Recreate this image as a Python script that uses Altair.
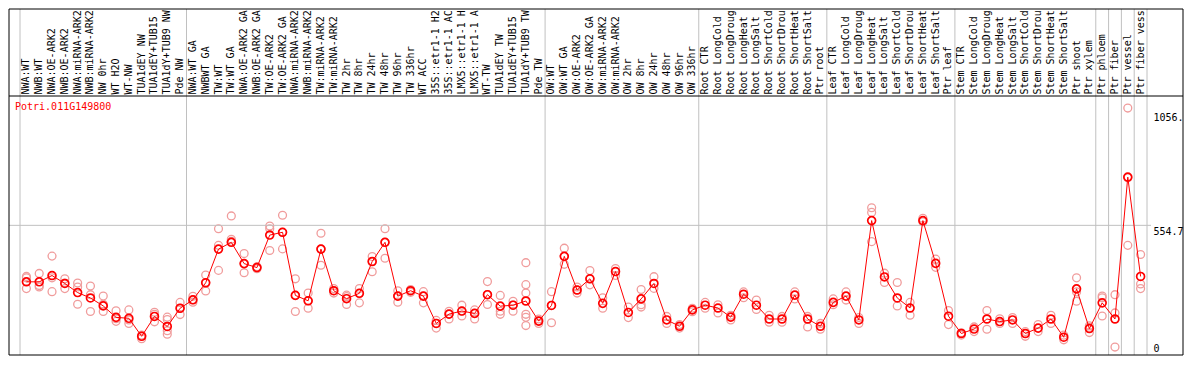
import json
import altair as alt
import pandas as pd

# ---------------- data ----------------
gene_id = "Potri.011G149800"

categories = [
    "NWA:WT", "NWB:WT", "NWA:OE-ARK2", "NWB:OE-ARK2", "NWA:miRNA-ARK2", "NWB:miRNA-ARK2",
    "NW 0hr", "WT H2O", "WT-NW", "TUA1dEY NW", "TUA1dEY+TUB15", "TUA1dY+TUB9 NW", "Pde NW",
    "NWA:WT GA", "NWBWT GA", "TW:WT", "TW:WT GA", "NWA:OE-ARK2 GA", "NWB:OE-ARK2 GA",
    "TW:OE-ARK2", "TW:OE-ARK2 GA", "NWA:miRNA-ARK2", "NWB:miRNA-ARK2", "TW:miRNA-ARK2",
    "TW:miRNA-ARK2", "TW 2hr", "TW 8hr", "TW 24hr", "TW 48hr", "TW 96hr", "TW 336hr",
    "WT ACC", "35S::etr1-1 H2", "35S::etr1-1 AC", "LMX5::etr1-1 H", "LMX5::etr1-1 A",
    "WT-TW", "TUA1dEY TW", "TUA1dEY+TUB15", "TUA1dY+TUB9 TW", "Pde TW",
    "OW:WT", "OW:WT GA", "OW:OE-ARK2", "OW:OE-ARK2 GA", "OW:miRNA-ARK2", "OW:miRNA-ARK2",
    "OW 2hr", "OW 8hr", "OW 24hr", "OW 48hr", "OW 96hr", "OW 336hr",
    "Root CTR", "Root LongCold", "Root LongDroug", "Root LongHeat", "Root LongSalt",
    "Root ShortCold", "Root ShortDrou", "Root ShortHeat", "Root ShortSalt", "Ptr root",
    "Leaf CTR", "Leaf LongCold", "Leaf LongDroug", "Leaf LongHeat", "Leaf LongSalt",
    "Leaf ShortCold", "Leaf ShortDrou", "Leaf ShortHeat", "Leaf ShortSalt", "Ptr leaf",
    "Stem CTR", "Stem LongCold", "Stem LongDroug", "Stem LongHeat", "Stem LongSalt",
    "Stem ShortCold", "Stem ShortDrou", "Stem ShortHeat", "Stem ShortSalt",
    "Ptr shoot", "Ptr xylem", "Ptr phloem", "Ptr fiber", "Ptr vessel", "Ptr fiber vess",
]

means = [
    313, 313, 340, 306, 267, 244, 210, 161, 157, 80,
    165, 122, 200, 236, 309, 453, 482, 391, 374, 513,
    525, 255, 232, 453, 275, 241, 264, 400, 482, 252,
    275, 252, 135, 175, 188, 178, 258, 209, 213, 231,
    145, 212, 422, 278, 326, 221, 357, 182, 240, 306,
    150, 123, 193, 213, 201, 162, 260, 213, 154, 154,
    256, 154, 123, 225, 252, 150, 575, 334, 244, 201,
    575, 392, 166, 92, 111, 154, 143, 150, 92, 115,
    154, 76, 283, 113, 223, 154, 761, 336,
]

replicates = [
    [336, 330, 284], [349, 297, 291], [423, 330, 271], [326, 284, 308], [308, 291, 217],
    [295, 258, 186], [252, 217, 186], [189, 144, 155], [193, 135, 150], [83, 70, 85],
    [183, 174, 142], [162, 152, 104, 89], [225, 173, 200], [251, 226, 236], [342, 274, 310],
    [540, 469, 362], [595, 495, 486], [434, 352, 390], [378, 369, 375], [552, 447, 540],
    [598, 454, 525], [326, 186, 255], [265, 200, 232], [521, 384, 453], [284, 265, 275],
    [256, 216, 250], [284, 223, 264], [421, 356, 400], [540, 414, 482], [275, 226, 252],
    [275, 268, 280], [271, 223, 252], [148, 115, 135], [187, 154, 175], [213, 167, 188],
    [193, 154, 178], [314, 216, 258], [255, 187, 174], [230, 187, 213],
    [395, 301, 265, 174, 161, 126], [154, 135, 145], [271, 138, 212], [457, 388, 422],
    [291, 265, 278], [361, 326, 300], [245, 200], [370, 340], [205, 160], [280, 215, 205],
    [335, 285], [165, 135], [130, 115], [200, 185], [225, 200], [215, 180], [170, 150],
    [270, 245], [235, 195], [170, 140], [165, 140], [270, 240], [165, 120], [135, 110],
    [240, 215], [270, 235], [160, 135], [630, 610, 485], [350, 310], [310, 210], [225, 170],
    [570, 585], [410, 375], [190, 130], [95, 85], [120, 100], [190, 110], [155, 135],
    [160, 135], [100, 80], [130, 100], [170, 135], [85, 65], [330, 270, 230],
    [96, 125, 118], [252, 245, 167], [258, 180, 34], [1056.3, 469, 758], [430, 304, 284],
]

y_tick_values = [0, 554.7, 1056.3]
y_tick_labels = ["0", "554.7", "1056."]
y_grid_values = [554.7]
group_starts = [0, 13, 41, 53, 63, 73, 84, 85, 86, 87]
y_max = 1108

assert len(categories) == len(means) == len(replicates)

# ---------------- layout / style ----------------
W_PLOT = 1138
W_LABEL = 36
H_PLOT = 259
H_HEAD = 87
LEFT_PAD = 11
FONT = "DejaVu Sans Mono"
RED = "#ff0000"
REP_COLOR = "#f09c9c"
GRID = "#c0c0c0"

n = len(categories)
keys = list(range(n))
pad_outer = (LEFT_PAD * n / (W_PLOT - LEFT_PAD)) / 2

mean_df = pd.DataFrame({"k": keys, "v": means})
rep_df = pd.DataFrame([{"k": i, "v": v} for i, reps in enumerate(replicates) for v in reps])

x_scale = alt.Scale(type="band", domain=keys, paddingInner=0, paddingOuter=pad_outer, align=1)
y_scale = alt.Scale(domain=[0, y_max], nice=False, zero=True)

x_label_expr = json.dumps(categories) + "[datum.value]"
y_label_expr = json.dumps(y_tick_labels) + "[indexof(" + json.dumps(y_tick_values) + ", datum.value)]"

x_axis = alt.Axis(
    orient="top", labelAngle=270, labelAlign="left", labelBaseline="middle",
    labelExpr=x_label_expr, labelFont=FONT, labelFontSize=10, labelColor="black",
    labelPadding=2, labelLimit=120, labelOverlap=False, ticks=False, tickSize=0,
    domain=False, grid=False, title=None,
)
y_axis = alt.Axis(
    orient="right", values=y_tick_values, labelExpr=y_label_expr, labelFont=FONT,
    labelFontSize=10, labelColor="black", labelPadding=6, labelAlign="left",
    labelOffset={"condition": [{"test": "datum.value > 1000", "value": 9.5},
                               {"test": "datum.value < 1", "value": -7}],
                 "value": 6},
    ticks=False, domain=False, grid=False, title=None, labelFlush=False, labelOverlap=False,
)

x_enc = alt.X("k:O", scale=x_scale, axis=x_axis)
y_enc = alt.Y("v:Q", scale=y_scale, axis=y_axis)

one = pd.DataFrame({"a": [0]})

seps = alt.Chart(pd.DataFrame({"k": group_starts})).mark_rule(color=GRID, strokeWidth=1).encode(
    x=alt.X("k:O", scale=x_scale, axis=x_axis, bandPosition=0),
    y=alt.value(-H_HEAD), y2=alt.value(H_PLOT),
)
end_sep = alt.Chart(pd.DataFrame({"k": [n - 1]})).mark_rule(color=GRID, strokeWidth=1).encode(
    x=alt.X("k:O", scale=x_scale, axis=x_axis, bandPosition=1),
    y=alt.value(-H_HEAD), y2=alt.value(H_PLOT),
)
grid = alt.Chart(pd.DataFrame({"v": y_grid_values})).mark_rule(color=GRID, strokeWidth=1).encode(
    y=y_enc, x=alt.value(0), x2=alt.value(W_PLOT + 4),
)

W_TOT = W_PLOT + W_LABEL
frame = []
for ypix in (-H_HEAD, 0, H_PLOT):
    frame.append(alt.Chart(one).mark_rule(color="black", strokeWidth=1).encode(
        x=alt.value(0), x2=alt.value(W_TOT), y=alt.value(ypix)))
for xpix in (0, W_TOT):
    frame.append(alt.Chart(one).mark_rule(color="black", strokeWidth=1).encode(
        x=alt.value(xpix), y=alt.value(-H_HEAD), y2=alt.value(H_PLOT)))

reps = alt.Chart(rep_df).mark_point(
    shape="circle", filled=False, size=62, strokeWidth=1.3, color=REP_COLOR, opacity=1
).encode(x=x_enc, y=y_enc)

line = alt.Chart(mean_df).mark_line(color=RED, strokeWidth=1).encode(x=x_enc, y=y_enc)

mean_pts = alt.Chart(mean_df).mark_point(
    shape="circle", filled=False, size=62, strokeWidth=1.7, color=RED, opacity=1
).encode(x=x_enc, y=y_enc)

title = alt.Chart(one).mark_text(
    text=gene_id, color=RED, font=FONT, fontSize=10, align="left", baseline="middle"
).encode(x=alt.value(6), y=alt.value(11))

chart = alt.layer(
    reps, seps, end_sep, grid, *frame, line, mean_pts, title
).properties(
    width=W_PLOT, height=H_PLOT, padding=0, background="white"
).configure_view(stroke=None)

chart.save("out.html", embed_options={"renderer": "svg", "actions": False})
